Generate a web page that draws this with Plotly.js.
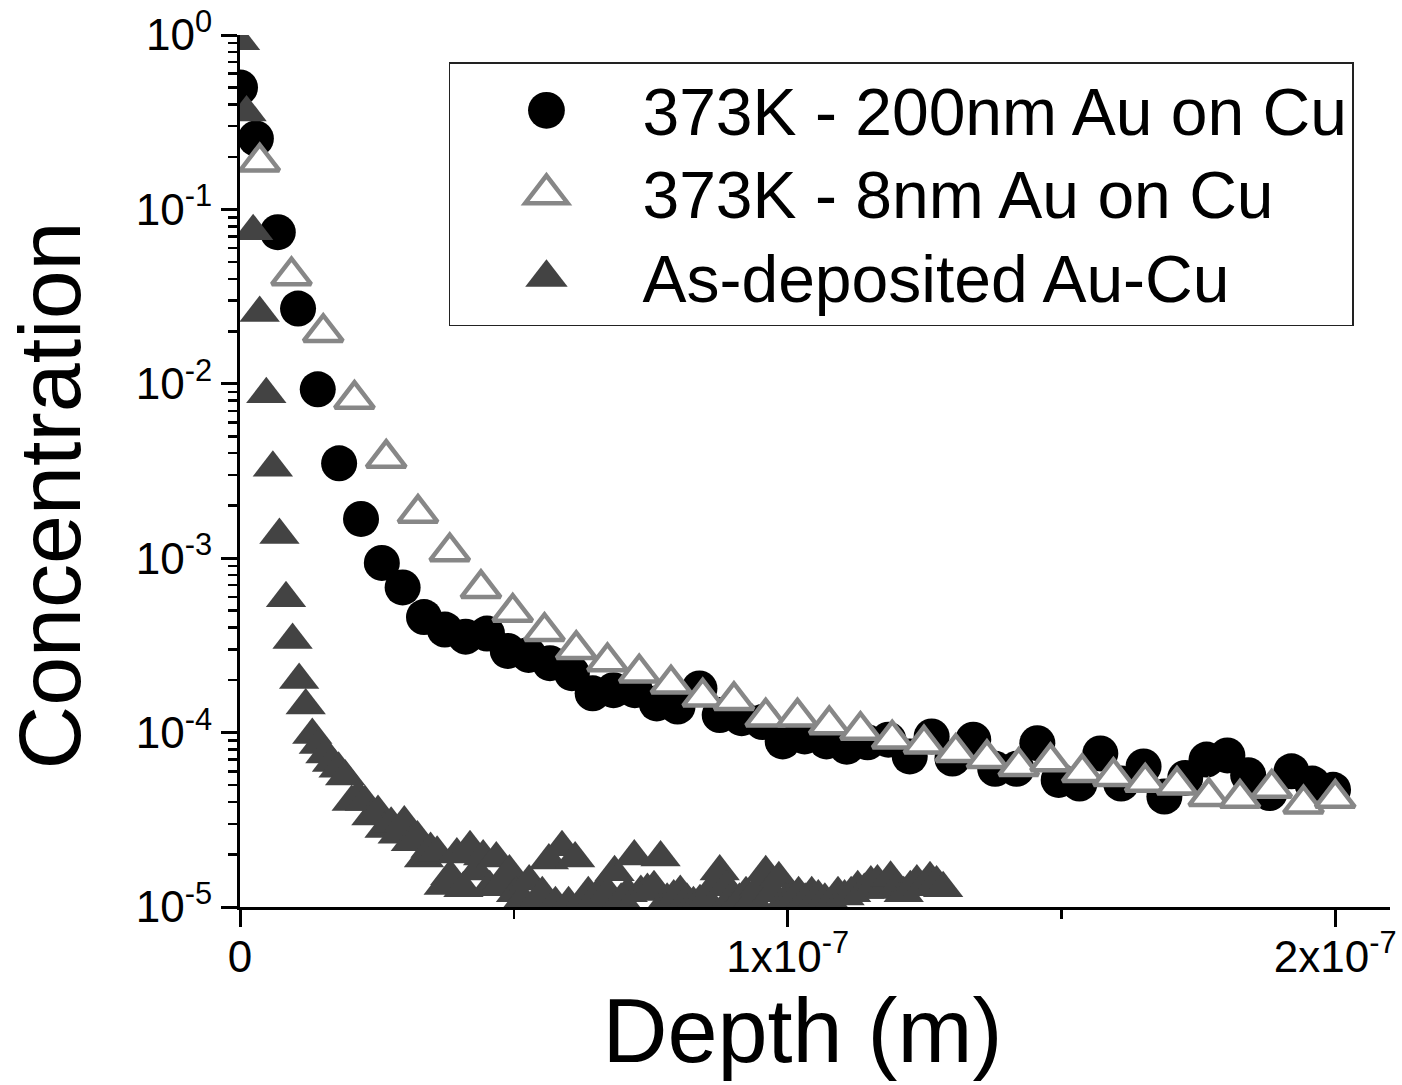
<!DOCTYPE html>
<html><head><meta charset="utf-8">
<script src="https://cdn.plot.ly/plotly-3.0.1.min.js"></script>
<style>
html,body{margin:0;padding:0;background:#fff;}
#chart{width:1402px;height:1085px;}
.legendtext{font-size:66px !important;}
</style>
</head><body><div id="chart"></div>
<script>
// ---------- data (depth in nm, concentration as fraction) ----------
const seriesNames = ["373K - 200nm Au on Cu", "373K - 8nm Au on Cu", "As-deposited Au-Cu"];

const depth200_nm = [0, 2.9, 6.9, 10.6, 14.2, 18.1, 22.1, 25.9, 29.7, 33.6, 37.4, 41.2, 45.1, 48.9, 52.7, 56.6, 60.6, 64.4, 68.2, 72.1, 76.1, 79.9, 83.9, 87.6, 91.6, 95.4, 99.1, 103.1, 107.1, 110.8, 114.6, 118.4, 122.3, 126.3, 130.1, 133.9, 137.9, 141.8, 145.6, 149.5, 153.3, 157.1, 160.9, 165.0, 168.8, 172.6, 176.5, 180.3, 184.1, 188.0, 192.0, 195.8, 199.6];
const conc200 = [0.5, 0.255, 0.074, 0.027, 0.0093, 0.0035, 0.00168, 0.00094, 0.00068, 0.00046, 0.00039, 0.000355, 0.00037, 0.000294, 0.000279, 0.00025, 0.000219, 0.000168, 0.000175, 0.000175, 0.000147, 0.000141, 0.000179, 0.000126, 0.000121, 0.000115, 8.9e-5, 9.5e-5, 8.9e-5, 8.3e-5, 8.8e-5, 9.1e-5, 7.3e-5, 9.5e-5, 7.1e-5, 9.1e-5, 6.2e-5, 6.2e-5, 8.7e-5, 5.35e-5, 5.1e-5, 7.6e-5, 5.1e-5, 6.4e-5, 4.3e-5, 5.5e-5, 7.0e-5, 7.4e-5, 5.7e-5, 4.5e-5, 6.0e-5, 5.1e-5, 4.7e-5];

const depth8_nm = [3.6, 9.4, 15.2, 20.9, 26.7, 32.5, 38.3, 44.0, 49.8, 55.6, 61.4, 67.1, 72.9, 78.7, 84.5, 90.2, 96.0, 101.8, 107.6, 113.3, 119.1, 124.9, 130.7, 136.4, 142.2, 148.0, 153.8, 159.5, 165.3, 171.1, 176.9, 182.6, 188.4, 194.2, 200.0];
const conc8 = [0.187, 0.0417, 0.0197, 0.00815, 0.00374, 0.00181, 0.00109, 6.7e-4, 4.9e-4, 3.8e-4, 3.0e-4, 2.55e-4, 2.2e-4, 1.9e-4, 1.6e-4, 1.53e-4, 1.23e-4, 1.23e-4, 1.11e-4, 1.03e-4, 9.2e-5, 8.6e-5, 7.7e-5, 7.1e-5, 6.4e-5, 6.8e-5, 5.9e-5, 5.6e-5, 5.2e-5, 5.0e-5, 4.3e-5, 4.2e-5, 4.8e-5, 3.9e-5, 4.2e-5];

const depthAsDep_nm = [0, 1.2, 2.4, 3.6, 4.8, 6.0, 7.2, 8.4, 9.6, 10.8, 12.0, 13.2, 14.4, 15.6, 16.8, 18.0, 19.2, 20.4, 21.6, 22.8, 24.0, 25.2, 26.4, 27.6, 28.8, 30.0, 31.2, 32.4, 33.6, 34.8, 36.0, 37.2, 38.4, 39.6, 40.8, 42.0, 43.2, 44.4, 45.6, 46.8, 48.0, 49.2, 50.4, 51.6, 52.8, 54.0, 55.2, 56.4, 57.6, 58.8, 60.0, 61.2, 62.4, 63.6, 64.8, 66.0, 67.2, 68.4, 69.6, 70.8, 72.0, 73.2, 74.4, 75.6, 76.8, 78.0, 79.2, 80.4, 81.6, 82.8, 84.0, 85.2, 86.4, 87.6, 88.8, 90.0, 91.2, 92.4, 93.6, 94.8, 96.0, 97.2, 98.4, 99.6, 100.8, 102.0, 103.2, 104.4, 105.6, 106.8, 108.0, 109.2, 110.4, 111.6, 112.8, 114.0, 115.2, 116.4, 117.6, 118.8, 120.0, 121.2, 122.4, 123.6, 124.8, 126.0, 127.2, 128.4];
const concAsDep = [0.92, 0.36, 0.075, 0.0255, 0.0087, 0.0033, 0.00136, 0.00059, 0.00034, 0.0002, 0.000143, 9.7e-5, 8.5e-5, 7.5e-5, 6.7e-5, 6.2e-5, 5.6e-5, 4.0e-5, 4.3e-5, 4.0e-5, 3.3e-5, 3.5e-5, 2.8e-5, 3.0e-5, 2.6e-5, 3.05e-5, 2.35e-5, 2.5e-5, 1.9e-5, 2.15e-5, 2.05e-5, 1.32e-5, 1.5e-5, 2.0e-5, 1.28e-5, 2.2e-5, 1.6e-5, 1.95e-5, 1.3e-5, 1.9e-5, 1.4e-5, 1.6e-5, 1.2e-5, 1.1e-5, 1.4e-5, 1.05e-5, 1.2e-5, 1.85e-5, 1.05e-5, 2.2e-5, 1.05e-5, 1.9e-5, 1.05e-5, 1.2e-5, 1.1e-5, 1.25e-5, 1.2e-5, 1.58e-5, 1.1e-5, 1.2e-5, 1.95e-5, 1.22e-5, 1.25e-5, 1.3e-5, 1.92e-5, 1.1e-5, 1.15e-5, 1.22e-5, 1.1e-5, 1.05e-5, 1.08e-5, 1.1e-5, 1.3e-5, 1.6e-5, 1.3e-5, 1.15e-5, 1.1e-5, 1.2e-5, 1.1e-5, 1.3e-5, 1.58e-5, 1.2e-5, 1.46e-5, 1.1e-5, 1.15e-5, 1.2e-5, 1.1e-5, 1.2e-5, 1.15e-5, 1.1e-5, 1.05e-5, 1.2e-5, 1.15e-5, 1.2e-5, 1.3e-5, 1.25e-5, 1.38e-5, 1.4e-5, 1.25e-5, 1.47e-5, 1.3e-5, 1.2e-5, 1.3e-5, 1.4e-5, 1.3e-5, 1.46e-5, 1.38e-5, 1.28e-5];

const xTickVals = [0, 1e-7, 2e-7];
const xTickText = ["0", "1x10<sup>-7</sup>", "2x10<sup>-7</sup>"];
const xMinorVals = [0.5e-7, 1.5e-7];
const yTickVals = [1e-5, 1e-4, 1e-3, 1e-2, 1e-1, 1];
const yTickText = ["10<sup>-5</sup>", "10<sup>-4</sup>", "10<sup>-3</sup>", "10<sup>-2</sup>", "10<sup>-1</sup>", "10<sup>0</sup>"];
const xTitle = "Depth (m)&nbsp;";
const yTitle = "Concentration&nbsp;&nbsp;";

// ---------- build ----------
const nm = v => v * 1e-9;
const FONT = '"Liberation Sans", Arial, sans-serif';
const yMinorVals = [];
for (let e = -5; e < 0; e++) for (let m = 2; m <= 9; m++) yMinorVals.push(m * Math.pow(10, e));

const data = [
  { type: 'scatter', mode: 'markers', name: seriesNames[0],
    x: depth200_nm.map(nm), y: conc200,
    marker: { symbol: 'circle', size: 36, color: '#000000', line: { width: 0 } } },
  { type: 'scatter', mode: 'markers', name: seriesNames[1],
    x: depth8_nm.map(nm), y: conc8,
    marker: { symbol: 'triangle-up', size: 34, color: '#ffffff', line: { color: '#878787', width: 4.5 } } },
  { type: 'scatter', mode: 'markers', name: seriesNames[2],
    x: depthAsDep_nm.map(nm), y: concAsDep,
    marker: { symbol: 'triangle-up', size: 35, color: '#434343', line: { width: 0 } } }
];

const axisCommon = { showgrid: false, zeroline: false, showline: true, linecolor: '#000', linewidth: 3,
  tickcolor: '#000', tickwidth: 3, ticklabeloverflow: 'allow',
  tickfont: { family: FONT, size: 44, color: '#000' } };

const layout = {
  width: 1402, height: 1085,
  margin: { l: 240, r: 12, t: 35, b: 178, pad: 0 },
  paper_bgcolor: '#fff', plot_bgcolor: '#fff',
  font: { family: FONT, color: '#000' },
  showlegend: true,
  xaxis: Object.assign({}, axisCommon, {
    range: [0, 2.1e-7], tickmode: 'array', tickvals: xTickVals, ticktext: xTickText,
    ticks: 'outside', ticklen: 17, ticklabelstandoff: -8,
    minor: { tickmode: 'array', tickvals: xMinorVals, ticks: 'outside', ticklen: 9, tickwidth: 2.5, tickcolor: '#000' },
    title: { text: xTitle, font: { family: FONT, size: 90, color: '#000' }, standoff: 8 }
  }),
  yaxis: Object.assign({}, axisCommon, {
    type: 'log', range: [-5, 0], tickmode: 'array', tickvals: yTickVals, ticktext: yTickText,
    ticks: 'outside', ticklen: 16,
    minor: { tickmode: 'array', tickvals: yMinorVals, ticks: 'outside', ticklen: 9, tickwidth: 2.5, tickcolor: '#000' },
    title: { text: yTitle, font: { family: FONT, size: 88, color: '#000' }, standoff: 40 }
  }),
  xaxis2: Object.assign({}, axisCommon, {
    overlaying: 'x', side: 'top', range: [0, 2.1e-7], tickmode: 'array', tickvals: xTickVals,
    showticklabels: false, ticks: 'inside', ticklen: 15,
    minor: { tickmode: 'array', tickvals: xMinorVals, ticks: 'inside', ticklen: 9, tickwidth: 2.5, tickcolor: '#000' }
  }),
  yaxis2: Object.assign({}, axisCommon, {
    overlaying: 'y', side: 'right', type: 'log', range: [-5, 0], tickmode: 'array', tickvals: yTickVals,
    showticklabels: false, ticks: 'inside', ticklen: 15,
    minor: { tickmode: 'array', tickvals: yMinorVals, ticks: 'inside', ticklen: 9, tickwidth: 2.5, tickcolor: '#000' }
  }),
  legend: {
    x: 0.1817, y: 0.969, xanchor: 'left', yanchor: 'top',
    bgcolor: '#fff', bordercolor: '#222', borderwidth: 1.5,
    font: { family: FONT, size: 62, color: '#000' },
    itemwidth: 182, tracegroupgap: 0
  }
};

Plotly.newPlot('chart', data, layout, { displayModeBar: false, staticPlot: true }).then(gd => {
  const s = 2.3;
  gd.querySelectorAll('.legend .legendpoints path.scatterpts').forEach(p => {
    const t = p.getAttribute('transform') || '';
    p.setAttribute('transform', t + ' scale(' + s + ')');
    const sw = parseFloat(p.style.strokeWidth);
    if (sw) p.style.strokeWidth = (sw / s) + 'px';
  });
});
</script>
</body></html>
